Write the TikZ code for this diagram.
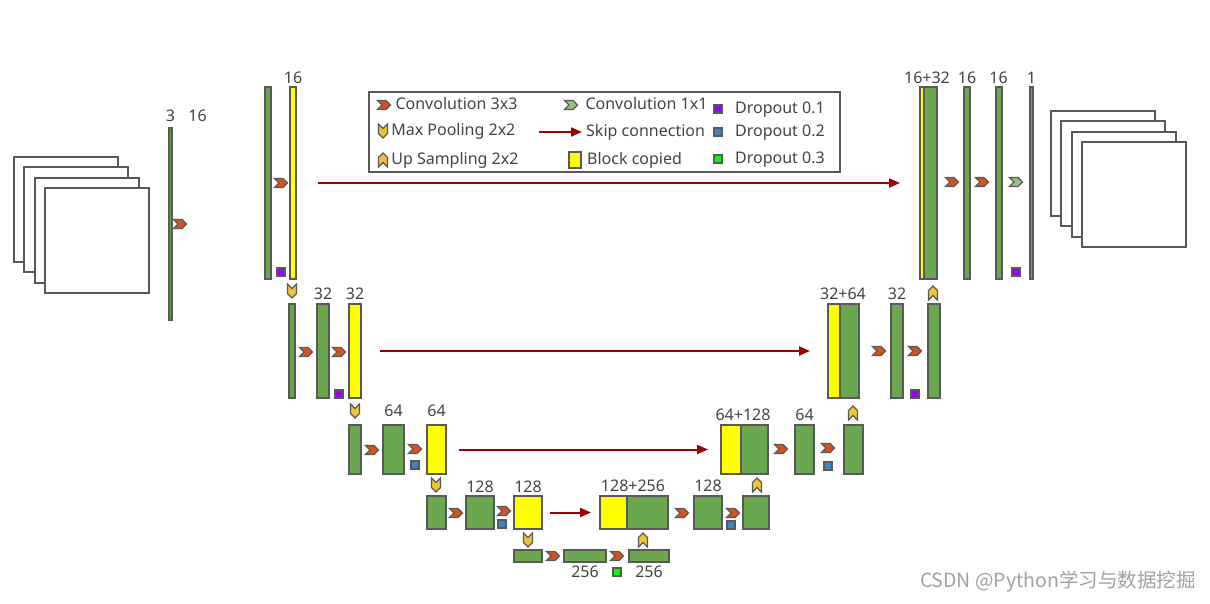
\documentclass[tikz,border=0pt]{standalone}
\usepackage{fontspec}
\setmainfont{Noto Sans}
\newfontfamily\cjkfont{Noto Sans CJK SC}
\definecolor{unetGreen}{HTML}{6AA84F}
\definecolor{unetYellow}{HTML}{FFFF00}
\definecolor{unetGrey}{HTML}{595959}
\definecolor{unetText}{HTML}{434343}
\definecolor{unetRed}{HTML}{D9521E}
\definecolor{unetGold}{HTML}{F1C232}
\definecolor{unetLight}{HTML}{93C47D}
\definecolor{unetSkip}{HTML}{990000}
\definecolor{dropPurple}{HTML}{9900FF}
\definecolor{dropBlue}{HTML}{3D85C6}
\definecolor{dropGreen}{HTML}{00FF00}
\definecolor{markGrey}{HTML}{A0A0A0}
\usetikzlibrary{arrows.meta, positioning, shapes.symbols}
\tikzset{
    wh/.style 2 args={minimum width=#1pt, minimum height=#2pt},
    layer node/.style={rectangle, draw=unetGrey, fill=unetGreen, line width=2pt, inner sep=0pt, outer sep=0pt},
    copy node/.style={layer node, fill=unetYellow},
    sheet node/.style={rectangle, draw=unetGrey, fill=white, line width=2pt, minimum width=104pt, minimum height=105pt},
    conv chevron/.style={signal, signal from=west, signal to=east, draw=unetGrey, fill=unetRed, line width=1.2pt, minimum width=13pt, minimum height=9pt, inner sep=0pt},
    last chevron/.style={conv chevron, fill=unetLight},
    pool chevron/.style={signal, signal from=north, signal to=south, draw=unetGrey, fill=unetGold, line width=1.2pt, minimum width=9pt, minimum height=5pt, inner sep=0pt},
    up chevron/.style={pool chevron, signal from=south, signal to=north},
    drop node/.style={rectangle, draw=unetGrey, line width=1.8pt, minimum size=8pt, inner sep=0pt},
    skip arrow/.style={-{Triangle[length=11pt, width=9pt]}, line width=2pt, unetSkip},
    size label/.style={font=\fontsize{16}{19}\selectfont, text=unetText, inner sep=0pt},
}

\begin{document}
\begin{tikzpicture}[x=1pt, y=-1pt]
        \useasboundingbox (0,0) rectangle (1210,603);
        % Define legend style
        \tikzset{
            legend frame/.style={rectangle, draw=unetGrey, line width=2pt, fill=white},
            legend text/.style={font=\fontsize{16}{19}\selectfont, text=unetText, inner sep=0pt, text height=11pt, text depth=3pt},
            watermark/.style={font=\cjkfont\fontsize{19.5}{22}\selectfont, text=markGrey, inner sep=0pt},
        }

        % Input and output images
        \foreach \i in {1,...,4}
            \node[sheet node] (in\i) at ({55.7+10.3*\i},{199.2+10.3*\i}) {};
        \foreach \i in {1,...,4}
            \node[sheet node] (out\i) at ({1092+10.5*\i},{152.5+10.5*\i}) {};

        % Encoder
        \node[layer node, wh={3.5}{192}] (x0) at (170.5,224) {};
        \node[conv chevron] (c0) at (180,224) {};

        \node[layer node, wh={6}{192}] (e1a) at (268,183) {};
        \node[copy node, wh={6}{192}] (e1b) at (293,183) {};
        \node[conv chevron] (c1) at (281,183) {};
        \node[drop node, fill=dropPurple] (dr1) at (281,272) {};
        \node[pool chevron] (p1) at (292,291) {};

        \node[layer node, wh={6}{94}] (e2a) at (292,351) {};
        \node[layer node, wh={12}{94}] (e2b) at (323,351) {};
        \node[copy node, wh={12}{94}] (e2c) at (355,351) {};
        \node[conv chevron] (c2) at (306,352) {};
        \node[conv chevron] (c3) at (339,352) {};
        \node[drop node, fill=dropPurple] (dr2) at (339,394) {};
        \node[pool chevron] (p2) at (355,411) {};

        \node[layer node, wh={12}{49}] (e3a) at (355,449.5) {};
        \node[layer node, wh={21}{49}] (e3b) at (393.5,449.5) {};
        \node[copy node, wh={19}{49}] (e3c) at (436.5,449.5) {};
        \node[conv chevron] (c4) at (372,450) {};
        \node[conv chevron] (c5) at (415,449) {};
        \node[drop node, fill=dropBlue] (dr3) at (415,465) {};
        \node[pool chevron] (p3) at (436,485) {};

        \node[layer node, wh={19}{33}] (e4a) at (436.5,512.5) {};
        \node[layer node, wh={28}{33}] (e4b) at (480,512.5) {};
        \node[copy node, wh={28}{33}] (e4c) at (528,512.5) {};
        \node[conv chevron] (c6) at (456,513) {};
        \node[conv chevron] (c7) at (504,511) {};
        \node[drop node, fill=dropBlue] (dr4) at (502,524) {};
        \node[pool chevron] (p4) at (528,540) {};

        % Bottom
        \node[layer node, wh={28}{12}] (b1) at (528,556) {};
        \node[layer node, wh={42}{12}] (b2) at (585,556) {};
        \node[layer node, wh={40}{12}] (b3) at (649,556) {};
        \node[conv chevron] (c8) at (553,556) {};
        \node[conv chevron] (c9) at (617,556) {};
        \node[drop node, fill=dropGreen] (dr5) at (617,572) {};
        \node[up chevron] (u4) at (643,540) {};

        % Decoder
        \node[copy node, wh={27}{33}] (d4y) at (613.5,512.5) {};
        \node[layer node, wh={41}{33}, right=0pt of d4y] (d4g) {};
        \node[layer node, wh={28}{33}] (d4b) at (708,512.5) {};
        \node[layer node, wh={26}{33}] (d4c) at (756,512.5) {};
        \node[conv chevron] (c10) at (682,513) {};
        \node[conv chevron] (c11) at (733,513) {};
        \node[drop node, fill=dropBlue] (dr6) at (731,525) {};
        \node[up chevron] (u3) at (757,485) {};

        \node[copy node, wh={20}{49}] (d3y) at (731,449.5) {};
        \node[layer node, wh={27}{49}, right=0pt of d3y] (d3g) {};
        \node[layer node, wh={19}{49}] (d3b) at (804.5,449.5) {};
        \node[layer node, wh={19}{49}] (d3c) at (853.5,449.5) {};
        \node[conv chevron] (c12) at (781,449) {};
        \node[conv chevron] (c13) at (828,448) {};
        \node[drop node, fill=dropBlue] (dr7) at (828,466) {};
        \node[up chevron] (u2) at (853,413) {};

        \node[copy node, wh={12}{94}] (d2y) at (834,351) {};
        \node[layer node, wh={19}{94}, right=0pt of d2y] (d2g) {};
        \node[layer node, wh={12}{94}] (d2b) at (897,351) {};
        \node[layer node, wh={12}{94}] (d2c) at (933.5,351) {};
        \node[conv chevron] (c14) at (879,351) {};
        \node[conv chevron] (c15) at (915,351) {};
        \node[drop node, fill=dropPurple] (dr8) at (915,394) {};
        \node[up chevron] (u1) at (933,293) {};

        \node[copy node, wh={4}{192}] (d1y) at (922,183) {};
        \node[layer node, wh={13}{192}, right=0pt of d1y] (d1g) {};
        \node[layer node, wh={6}{192}] (d1b) at (967,183) {};
        \node[layer node, wh={6}{192}] (d1c) at (998.5,183) {};
        \node[layer node, wh={3.5}{192}] (y0) at (1031.5,183) {};
        \node[conv chevron] (c16) at (952,182) {};
        \node[conv chevron] (c17) at (982,182) {};
        \node[last chevron] (g1) at (1016,182) {};
        \node[drop node, fill=dropPurple] (dr9) at (1016,272) {};

        % Skip connections
        \draw[skip arrow, shorten <=22pt, shorten >=20pt] (e1b) -- (d1y);
        \draw[skip arrow, shorten <=19pt, shorten >=18pt] (e2c) -- (d2y);
        \draw[skip arrow, shorten <=13pt, shorten >=13pt] (e3c) -- (d3y);
        \draw[skip arrow, shorten <=8pt, shorten >=9pt] (e4c) -- (d4y);

        % Channel labels
        \node[size label, above=6pt of x0] (n0a) {3};
        \node[size label, base right=13pt of n0a] (n0b) {16};
        \node[size label, above=3pt of e1b] (n1) {16};
        \node[size label, above=4pt of e2b] (n2a) {32};
        \node[size label, above=4pt of e2c] (n2b) {32};
        \node[size label, above=8pt of e3b] (n3a) {64};
        \node[size label, above=8pt of e3c] (n3b) {64};
        \node[size label, above=3pt of e4b] (n4a) {128};
        \node[size label, above=3pt of e4c] (n4b) {128};
        \node[size label, below=4pt of b2] (n5a) {256};
        \node[size label, below=4pt of b3] (n5b) {256};
        \node[size label, above=4pt of d4y.north east, xshift=6pt] (m4a) {128+256};
        \node[size label, above=4pt of d4b] (m4b) {128};
        \node[size label, above=4pt of d3y.north east, xshift=2pt] (m3a) {64+128};
        \node[size label, above=4pt of d3b] (m3b) {64};
        \node[size label, above=4pt of d2y.north east, xshift=3pt] (m2a) {32+64};
        \node[size label, above=4pt of d2b] (m2b) {32};
        \node[size label, above=3pt of d1y.north east, xshift=3pt] (m1a) {16+32};
        \node[size label, above=3pt of d1b] (m1b) {16};
        \node[size label, above=3pt of d1c] (m1c) {16};
        \node[size label, above=3pt of y0] (m1d) {1};

        % Legend
        \node[legend frame, wh={471}{80}] (legend) at (604.5,132) {};
        \node[conv chevron] (kc3) at (384,105) {};
        \node[legend text, right=4pt of kc3] (tc3) {Convolution 3x3};
        \node[pool chevron] (kpool) at (383,131) {};
        \node[legend text, right=3pt of kpool] (tpool) {Max Pooling 2x2};
        \node[up chevron] (kup) at (383,160) {};
        \node[legend text, right=3pt of kup] (tup) {Up Sampling 2x2};
        \node[last chevron] (kc1) at (571,105) {};
        \node[legend text, right=7pt of kc1] (tc1) {Convolution 1x1};
        \coordinate (ka) at (539,132);
        \coordinate (kb) at (582,132);
        \draw[skip arrow] (ka) -- (kb);
        \node[legend text, right=4pt of kb] (tskip) {Skip connection};
        \node[copy node, line width=1.8pt, wh={12}{16}] (kcopy) at (575,160) {};
        \node[legend text, right=6pt of kcopy] (tcopy) {Block copied};
        \node[drop node, fill=dropPurple] (kd1) at (718,109) {};
        \node[legend text, right=12pt of kd1] (td1) {Dropout 0.1};
        \node[drop node, fill=dropBlue] (kd2) at (718,132) {};
        \node[legend text, right=12pt of kd2] (td2) {Dropout 0.2};
        \node[drop node, fill=dropGreen] (kd3) at (718,159) {};
        \node[legend text, right=12pt of kd3] (td3) {Dropout 0.3};

        % Watermark
        \node[watermark, anchor=east] (mark) at (1196,581) {CSDN @Python学习与数据挖掘};
    \end{tikzpicture}
\end{document}
